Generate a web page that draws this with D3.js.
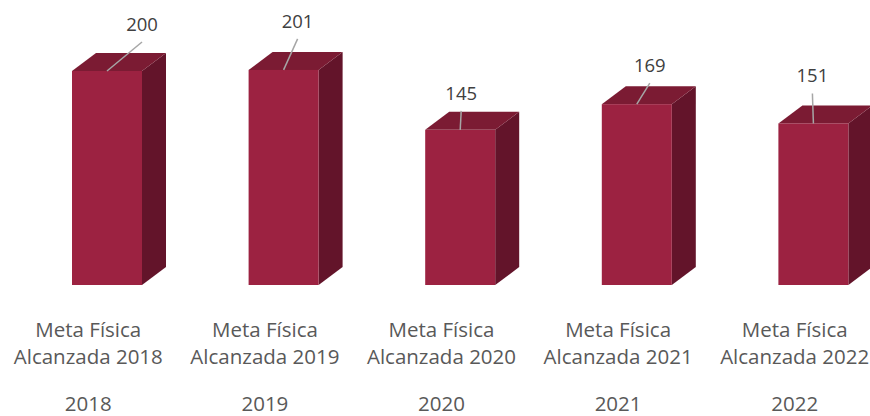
<!DOCTYPE html>
<meta charset="utf-8" />
<style>
  body { margin: 0; background: #fff; }
  .cat { font-family: "Open Sans", Lato, sans-serif; font-size: 20.5px; fill: #595959; }
  .val { font-family: "Open Sans", Lato, sans-serif; font-size: 18.5px; fill: #404040; }
</style>
<body>
  <svg id="chart" width="870" height="416"></svg>
</body>
<script src="https://d3js.org/d3.v7.min.js"></script>
<script>
  // data
  const years = ["2018", "2019", "2020", "2021", "2022"];
  const labels = ["Meta Física Alcanzada 2018", "Meta Física Alcanzada 2019", "Meta Física Alcanzada 2020",
                  "Meta Física Alcanzada 2021", "Meta Física Alcanzada 2022"];
  const values = [200, 201, 145, 169, 151];

  // where the data labels were dragged to (relative to the bar top)
  const labelNudge = [[35, -40], [14, -42], [1, -30], [13, -32], [-1, -41]];

  const svg = d3.select("#chart");

  // 3d box look
  const front = 70, depthX = 24, depthY = 18, barOffset = 72;
  const colFront = "#9c2241", colTop = "#7b1b33", colSide = "#63142a";

  const x = d3.scaleBand().domain(years).range([0, 883]).padding(0);
  const y = d3.scaleLinear().domain([0, 250]).range([285, 17.5]);

  const bars = svg.selectAll(".bar")
    .data(values.map((v, i) => ({ year: years[i], label: labels[i], value: v, nudge: labelNudge[i] })))
    .enter()
    .append("g")
    .attr("class", "bar");

  // right side face
  bars.append("path")
    .attr("fill", colSide)
    .attr("d", d => {
      const x1 = x(d.year) + barOffset + front, t = y(d.value), b = y(0);
      return `M${x1},${t}L${x1 + depthX},${t - depthY}L${x1 + depthX},${b - depthY}L${x1},${b}Z`;
    });

  // top face
  bars.append("path")
    .attr("fill", colTop)
    .attr("d", d => {
      const x0 = x(d.year) + barOffset, t = y(d.value);
      return `M${x0},${t}L${x0 + depthX},${t - depthY}L${x0 + front + depthX},${t - depthY}L${x0 + front},${t}Z`;
    });

  // front face
  bars.append("rect")
    .attr("fill", colFront)
    .attr("x", d => x(d.year) + barOffset)
    .attr("y", d => y(d.value))
    .attr("width", front)
    .attr("height", d => y(0) - y(d.value));

  // leader lines
  bars.append("line")
    .attr("stroke", "#a6a6a6")
    .attr("stroke-width", 1.5)
    .attr("x1", d => x(d.year) + barOffset + front / 2)
    .attr("y1", d => y(d.value))
    .attr("x2", d => x(d.year) + barOffset + front / 2 + d.nudge[0])
    .attr("y2", d => y(d.value) + d.nudge[1] + 11);

  // value labels
  bars.append("text")
    .attr("class", "val")
    .attr("text-anchor", "middle")
    .attr("x", d => x(d.year) + barOffset + front / 2 + d.nudge[0])
    .attr("y", d => y(d.value) + d.nudge[1])
    .text(d => d.value);

  // category labels, two lines
  const cat = bars.append("text")
    .attr("class", "cat")
    .attr("text-anchor", "middle");
  cat.append("tspan")
    .attr("x", d => x(d.year) + x.bandwidth() / 2)
    .attr("y", 337)
    .text(d => d.label.slice(0, 11));
  cat.append("tspan")
    .attr("x", d => x(d.year) + x.bandwidth() / 2)
    .attr("y", 364)
    .text(d => d.label.slice(12));

  // year row
  bars.append("text")
    .attr("class", "cat")
    .attr("text-anchor", "middle")
    .attr("x", d => x(d.year) + x.bandwidth() / 2)
    .attr("y", 411)
    .text(d => d.year);
</script>
